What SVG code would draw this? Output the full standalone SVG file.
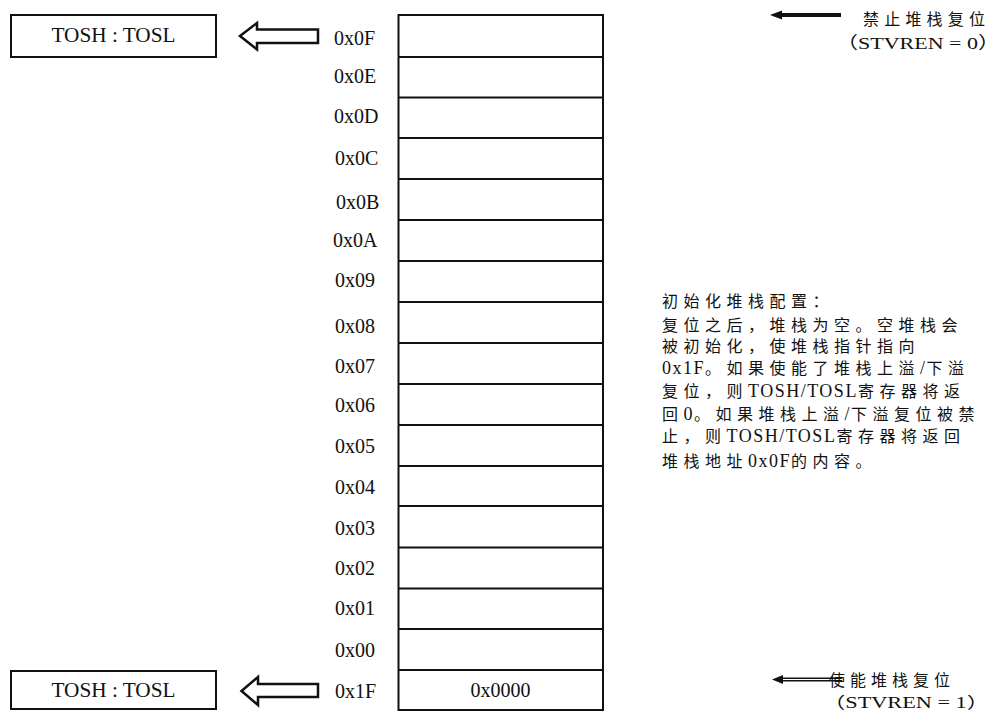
<svg xmlns="http://www.w3.org/2000/svg" width="994" height="711" viewBox="0 0 994 711">
<style>
.t{font-family:"Liberation Serif","Noto Sans CJK SC",serif;fill:#111}
.lbl{font-size:20px}
.cj{font-size:16px}
.n{font-size:16px;letter-spacing:5.5px}
.l{font-family:"Liberation Serif",serif;font-size:18px;letter-spacing:1.5px}
.box{fill:#fff;stroke:#111;stroke-width:2}
.row{stroke:#111;stroke-width:2}
.hol{fill:#fff;stroke:#111;stroke-width:2.5;stroke-linejoin:miter}
</style>
<rect width="994" height="711" fill="#fff"/>
<g id="stack">
<rect class="box" x="398.5" y="15" width="204.5" height="695"/>
<g class="row">
<line x1="398.5" y1="57" x2="603" y2="57"/>
<line x1="398.5" y1="97.5" x2="603" y2="97.5"/>
<line x1="398.5" y1="138" x2="603" y2="138"/>
<line x1="398.5" y1="179" x2="603" y2="179"/>
<line x1="398.5" y1="220" x2="603" y2="220"/>
<line x1="398.5" y1="261" x2="603" y2="261"/>
<line x1="398.5" y1="302" x2="603" y2="302"/>
<line x1="398.5" y1="343" x2="603" y2="343"/>
<line x1="398.5" y1="384" x2="603" y2="384"/>
<line x1="398.5" y1="425" x2="603" y2="425"/>
<line x1="398.5" y1="466" x2="603" y2="466"/>
<line x1="398.5" y1="506" x2="603" y2="506"/>
<line x1="398.5" y1="547.5" x2="603" y2="547.5"/>
<line x1="398.5" y1="588.5" x2="603" y2="588.5"/>
<line x1="398.5" y1="629" x2="603" y2="629"/>
<line x1="398.5" y1="670" x2="603" y2="670"/>
</g>
<text class="t lbl" x="500.5" y="697" text-anchor="middle">0x0000</text>
</g>
<g id="labels" class="t lbl">
<text x="334" y="45">0x0F</text>
<text x="334" y="83">0x0E</text>
<text x="334" y="123">0x0D</text>
<text x="335" y="165">0x0C</text>
<text x="336" y="209">0x0B</text>
<text x="333" y="247">0x0A</text>
<text x="335" y="287">0x09</text>
<text x="335" y="333">0x08</text>
<text x="335" y="373">0x07</text>
<text x="335" y="412">0x06</text>
<text x="335" y="453">0x05</text>
<text x="335" y="494">0x04</text>
<text x="335" y="535">0x03</text>
<text x="335" y="575">0x02</text>
<text x="335" y="615">0x01</text>
<text x="335" y="657">0x00</text>
<text x="335" y="698">0x1F</text>
</g>
<g id="tos-top">
<rect class="box" x="11" y="15" width="205" height="42"/>
<text class="t lbl" x="113.5" y="42" text-anchor="middle" textLength="124" lengthAdjust="spacingAndGlyphs">TOSH : TOSL</text>
</g>
<g id="tos-bottom">
<rect class="box" x="11" y="671" width="205" height="38"/>
<text class="t lbl" x="113.5" y="697" text-anchor="middle" textLength="124" lengthAdjust="spacingAndGlyphs">TOSH : TOSL</text>
</g>
<g id="connectors">
<path class="hol" d="M240,36 L257,23 L257,29.5 L318,29.5 L318,43 L257,43 L257,49.5 Z"/>
<path class="hol" d="M241.5,691 L258,677 L258,684 L318,684 L318,697 L258,697 L258,705 Z"/>
<line x1="778" y1="15" x2="841" y2="15" stroke="#111" stroke-width="4"/>
<polygon points="770,15 782,10.5 782,19.5" fill="#111"/>
<line x1="780" y1="679.5" x2="842" y2="679.5" stroke="#111" stroke-width="4"/>
<line x1="782" y1="679.5" x2="842" y2="679.5" stroke="#fff" stroke-width="1"/>
<polygon points="772,679.5 783,675 783,684" fill="#111"/>
</g>
<g id="note-disable" class="t">
<text class="cj" x="863" y="25" textLength="122" lengthAdjust="spacing">禁止堆栈复位</text>
<text x="836" y="49" font-size="17" textLength="164" lengthAdjust="spacingAndGlyphs">（STVREN = 0）</text>
</g>
<g id="note-enable" class="t">
<text class="cj" x="829" y="686" textLength="121" lengthAdjust="spacing">使能堆栈复位</text>
<text x="823" y="708" font-size="16" textLength="166" lengthAdjust="spacingAndGlyphs">（STVREN = 1）</text>
</g>
<g id="note-init" class="t n">
<text x="662" y="307">初始化堆栈配置：</text>
<text x="662" y="331">复位之后，堆栈为空。空堆栈会</text>
<text x="662" y="352">被初始化，使堆栈指针指向</text>
<text x="662" y="374"><tspan class="l">0x1F</tspan>。如果使能了堆栈上溢<tspan class="l">/</tspan>下溢</text>
<text x="662" y="397">复位，则<tspan class="l">TOSH/TOSL</tspan>寄存器将返</text>
<text x="662" y="420">回<tspan class="l">0</tspan>。如果堆栈上溢<tspan class="l">/</tspan>下溢复位被禁</text>
<text x="662" y="442">止，则<tspan class="l">TOSH/TOSL</tspan>寄存器将返回</text>
<text x="662" y="467">堆栈地址<tspan class="l">0x0F</tspan>的内容。</text>
</g>
</svg>
